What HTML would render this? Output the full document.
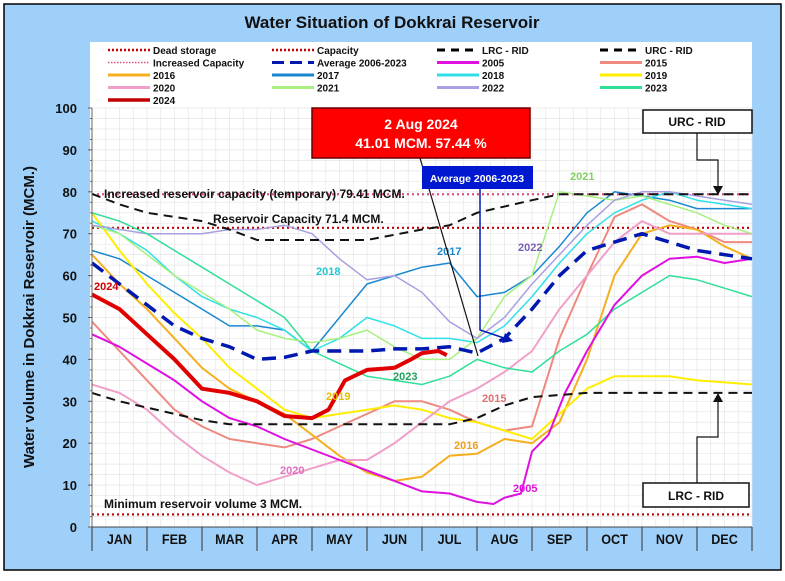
<!DOCTYPE html>
<html><head><meta charset="utf-8">
<style>
body{margin:0;width:785px;height:576px;overflow:hidden;background:#fff;font-family:"Liberation Sans",sans-serif}
svg text{font-family:"Liberation Sans",sans-serif}
</style></head>
<body>
<svg id="chart" width="785" height="576" viewBox="0 0 785 576">
<rect x="4" y="4" width="777" height="566" fill="#9fd0fa" stroke="#000" stroke-width="1.5"/>
<text x="392" y="28" text-anchor="middle" font-size="17" font-weight="bold" fill="#111">Water Situation of Dokkrai Reservoir</text>
<rect x="90" y="42" width="662" height="485" fill="#fff"/>
<g id="grid"></g>
<g id="legend"></g>
<g id="series"></g>
<g id="axes"></g>
<g id="annot"></g>
</svg>
<script>
const months=["JAN","FEB","MAR","APR","MAY","JUN","JUL","AUG","SEP","OCT","NOV","DEC"];
const yTicks=[0,10,20,30,40,50,60,70,80,90,100];
const deadStorage=3, capacity=71.4, incCapacity=79.41;
const urcX=[0,0.5,1,2,2.5,3,4,5,6,6.5,7,8,8.5,12];
const urcY=[79.5,77,75,73,71,68.5,68.5,68.5,71,72,75,78,79.4,79.4];
const lrcX=[0,0.5,1,2,2.5,6.5,7,7.5,8,9,12];
const lrcY=[32,30,28.5,25.5,24.5,24.5,26,29,31,32,32];
const avgX=[0,0.5,1,1.5,2,2.5,3,3.5,4,4.5,5,5.5,6,6.5,7,7.5,8,8.5,9,9.5,10,10.5,11,12];
const avgY=[63,58,53,48,45,43,40,40.5,42,42,42,42.5,42.5,43,41.5,45,52,60,66,68,70,68,66,64];
const mX=[0,0.5,1,1.5,2,2.5,3,3.5,4,4.5,5,5.5,6,6.5,7,7.5,8,8.5,9,9.5,10,10.5,11,11.5,12];
const y2015=[49,42,35,28,24,21,20,19,21,24,27,30,30,28,25,23,24,45,60,74,77,73,71,68,68];
const y2016=[65,58,52,45,38,33,30,27,22,17,13,11,12,17,17.5,21,20,25,40,60,70,72,71,67,64];
const y2017=[66,64,60,56,52,48,48,47,42,50,58,60,62,63,55,56,60,67,75,80,79,78,76,76,76];
const y2018=[73,70,66,60,55,52,50,47,42,45,50,48,45,45,44,48,55,63,70,75,78,80,78,77,76];
const y2019=[75,66,58,51,45,38,33,28,26,27,28,29,28,26,25,23,21,27,33,36,36,36,35,34.5,34];
const y2020=[34,32,28,22,17,13,10,12,14,16,16,20,25,30,33,37,42,52,60,68,73,70,70,70,70];
const y2021=[72,70,65,60,56,52,47,45,44,45,47,43,40,40,45,55,60,80,79,78,79,77,75,72,70];
const y2022=[72,71,70,70,70,71,71,72,70,64,59,60,56,49,45,50,58,65,72,78,80,80,79,78,77];
const y2023=[75,73,70,66,62,58,54,50,42,39,36,35,34,36,40,38,37,42,46,52,56,60,59,57,55];
const x2005=[0,0.5,1,1.5,2,2.5,3,3.5,4,4.5,5,5.5,6,6.5,7,7.3,7.5,7.8,8,8.3,8.6,9,9.5,10,10.5,11,11.5,12];
const y2005=[46,43,39,35,30,26,24,21,18.5,16,13.5,11,8.5,8,6,5.5,7,8,18,22,32,42,53,60,64,64.5,63,64];
const x2024=[0,0.5,1,1.5,2,2.5,3,3.5,4,4.3,4.6,5,5.5,5.8,6,6.3,6.45];
const y2024=[55.5,52,46,40,33,32,30,26.5,26,28,35,37.5,38,40,41.5,42,41];

const X0=92,X1=752,Y0=527,Y1=108;
const sx=m=>X0+m*(X1-X0)/12;
const sy=v=>Y0-v*(Y0-Y1)/100;
const NS="http://www.w3.org/2000/svg";
function mk(tag,attrs,parent){const e=document.createElementNS(NS,tag);for(const k in attrs)e.setAttribute(k,attrs[k]);parent.appendChild(e);return e;}
const grid=document.getElementById('grid'),ser=document.getElementById('series'),axes=document.getElementById('axes'),leg=document.getElementById('legend'),ann=document.getElementById('annot');
for(let v=0;v<=100;v+=2.5){const l=mk('line',{x1:X0,x2:X1,y1:sy(v),y2:sy(v),stroke:'#e6e6e6','stroke-width':0.7},grid);}
for(let m=0;m<=12;m+=0.25){mk('line',{x1:sx(m),x2:sx(m),y1:Y1,y2:Y0,stroke:'#e6e6e6','stroke-width':0.7},grid);}
function path(xs,ys,color,w,dash,name){
  const d=xs.map((x,i)=>(i?'L':'M')+sx(x).toFixed(1)+' '+sy(ys[i]).toFixed(1)).join(' ');
  const p=mk('path',{d:d,fill:'none',stroke:color,'stroke-width':w,'stroke-linejoin':'round'},ser);
  if(dash)p.setAttribute('stroke-dasharray',dash);
  
  
}
function hline(v,color,name){const l=mk('line',{x1:X0,x2:X1,y1:sy(v),y2:sy(v),stroke:color,'stroke-width':2.2,'stroke-dasharray':'2 3'},ser);

}
hline(deadStorage,'#c00000','dead-storage-line');
hline(capacity,'#c00000','capacity-line');
hline(incCapacity,'#e05080','increased-capacity-line');
path(mX,y2015,'#ee8a80',2,null,'series-2015');
path(mX,y2016,'#f5b020',2,null,'series-2016');
path(mX,y2017,'#1a88d0',1.5,null,'series-2017');
path(mX,y2018,'#30e0e8',1.5,null,'series-2018');
path(mX,y2019,'#ffee00',2,null,'series-2019');
path(mX,y2020,'#f0a0c8',2,null,'series-2020');
path(mX,y2021,'#a8f080',1.5,null,'series-2021');
path(mX,y2022,'#a8a0e0',1.5,null,'series-2022');
path(mX,y2023,'#30e098',1.5,null,'series-2023');
path(x2005,y2005,'#e010e0',2,null,'series-2005');
path(urcX,urcY,'#111',2,'9 6','urc-rid-line');
path(lrcX,lrcY,'#111',2,'9 6','lrc-rid-line');
path(avgX,avgY,'#0018b0',3.5,'14 8','average-2006-2023-line');
path(x2024,y2024,'#e00000',4,null,'series-2024');
// axes
mk('line',{x1:X0,x2:X0,y1:Y1,y2:Y0,stroke:'#666'},axes);
yTicks.forEach(v=>{const t=mk('text',{x:77,y:sy(v)+5,'text-anchor':'end','font-size':13,'font-weight':'bold',fill:'#111'},axes);t.textContent=v;


mk('line',{x1:X0-4,x2:X0,y1:sy(v),y2:sy(v),stroke:'#666'},axes);});
for(let v=0;v<100;v+=2.5){mk('line',{x1:X0-2,x2:X0,y1:sy(v),y2:sy(v),stroke:'#666'},axes);}
mk('rect',{x:X0,y:Y0,width:X1-X0,height:24,fill:'#9fd0fa'},axes);
mk('line',{x1:X0,x2:X1,y1:Y0,y2:Y0,stroke:'#444'},axes);
months.forEach((m,i)=>{mk('line',{x1:sx(i),x2:sx(i),y1:Y0,y2:Y0+24,stroke:'#333'},axes);
const t=mk('text',{x:sx(i+0.5),y:Y0+17,'text-anchor':'middle','font-size':14,'font-weight':'bold',fill:'#111',transform:`scale(0.9,1) translate(${sx(i+0.5)/0.9-sx(i+0.5)},0)`},axes);t.textContent=m;

});
mk('line',{x1:X1,x2:X1,y1:Y0,y2:Y0+24,stroke:'#333'},axes);
const yt=mk('text',{x:0,y:0,'text-anchor':'middle','font-size':15,'font-weight':'bold',fill:'#111',transform:'translate(34,317) rotate(-90)'},axes);
yt.textContent='Water volume in Dokkrai Reservoir (MCM.)';


// legend
const legItems=[["Dead storage","#c00000","2 2",2.5],["Capacity","#c00000","2 2",2.5],["LRC - RID","#000","8 6",3],["URC - RID","#000","8 6",3],
["Increased Capacity","#e05080","1.5 1.5",1.5],["Average 2006-2023","#0018b0","12 6",3],["2005","#e010e0",null,3],["2015","#ee8a80",null,3],
["2016","#f5b020",null,3],["2017","#1a88d0",null,3],["2018","#30e0e8",null,3],["2019","#ffee00",null,3],
["2020","#f0a0c8",null,3],["2021","#a8f080",null,3],["2022","#a8a0e0",null,3],["2023","#30e098",null,3],["2024","#c00000",null,3.5]];
const colX=[108,272,437,600];
legItems.forEach((it,i)=>{const c=i%4,r=Math.floor(i/4);const x=colX[c],y=50+r*12.5;
const l=mk('line',{x1:x,x2:x+42,y1:y,y2:y,stroke:it[1],'stroke-width':it[3]},leg);if(it[2])l.setAttribute('stroke-dasharray',it[2]);
const t=mk('text',{x:x+45,y:y+4,'font-size':10,'font-weight':'bold',fill:'#111'},leg);t.textContent=it[0];

});
// annotations
function txt(x,y,s,size,color,name,anchor){const t=mk('text',{x:x,y:y,'font-size':size,'font-weight':'bold',fill:color,'text-anchor':anchor||'start'},ann);t.textContent=s;

return t;}
txt(104,198,'Increased reservoir capacity (temporary) 79.41 MCM.',12,'#111','increased-capacity-label');
txt(213,223,'Reservoir Capacity 71.4 MCM.',12,'#111','capacity-label');
txt(104,508,'Minimum reservoir volume 3 MCM.',12,'#111','minimum-volume-label');
txt(94,290,'2024',11,'#d00000','label-2024');
txt(316,275,'2018',11,'#20c8d0','label-2018');
txt(437,255,'2017',11,'#1a88d0','label-2017');
txt(518,251,'2022',11,'#7a60b0','label-2022');
txt(570,180,'2021',11,'#80d060','label-2021');
txt(326,400,'2019',11,'#e0c000','label-2019');
txt(393,380,'2023',11,'#20a060','label-2023');
txt(482,402,'2015',11,'#e07070','label-2015');
txt(454,449,'2016',11,'#f0a020','label-2016');
txt(280,474,'2020',11,'#e070c0','label-2020');
txt(513,492,'2005',11,'#e010e0','label-2005');
mk('line',{x1:420,y1:158,x2:478,y2:356,stroke:'#111','stroke-width':1.2},ann);
const rb=mk('rect',{x:312,y:108,width:218,height:50,fill:'#ff0000',stroke:'#600','stroke-width':1.5},ann);


txt(421,129,'2 Aug 2024',14,'#fff','latest-date','middle');
txt(421,148,'41.01 MCM. 57.44 %',14,'#fff','latest-value','middle');
mk('path',{d:'M480 189 L480 330 L510 340',fill:'none',stroke:'#0018b0','stroke-width':1.5},ann);
mk('path',{d:'M505 333 L513 341 L502 343 Z',fill:'#0018b0'},ann);
const bb=mk('rect',{x:422,y:166,width:111,height:23,fill:'#0018d0'},ann);


txt(477,182,'Average 2006-2023',10.5,'#fff','average-label','middle');
mk('path',{d:'M697 133 L697 160 L718 160 L718 188',fill:'none',stroke:'#111','stroke-width':1.2},ann);
mk('path',{d:'M713 186 L718 195 L723 186 Z',fill:'#111'},ann);
const ub=mk('rect',{x:643,y:110,width:109,height:23,fill:'#fff',stroke:'#111','stroke-width':1.5},ann);


txt(697,126,'URC - RID',12,'#111','urc-rid-label','middle');
mk('path',{d:'M718 400 L718 437 L697 437 L697 483',fill:'none',stroke:'#111','stroke-width':1.2},ann);
mk('path',{d:'M713 402 L718 393 L723 402 Z',fill:'#111'},ann);
const lb=mk('rect',{x:643,y:483,width:106,height:24,fill:'#fff',stroke:'#111','stroke-width':1.5},ann);


txt(696,500,'LRC - RID',12,'#111','lrc-rid-label','middle');
</script>
</body></html>
